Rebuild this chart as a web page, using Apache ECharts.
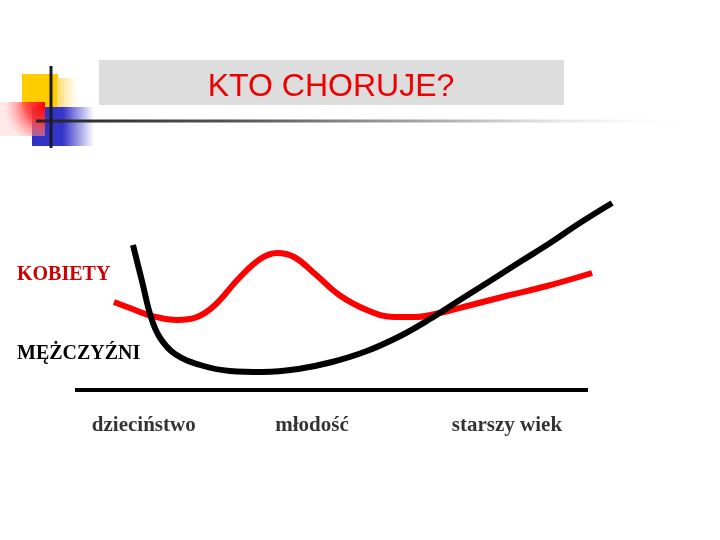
<!DOCTYPE html>
<html>
<head>
<meta charset="utf-8">
<script src="https://cdn.jsdelivr.net/npm/echarts@6/dist/echarts.min.js"></script>
<style>
  html, body { margin: 0; padding: 0; background: #ffffff; }
  #chart { width: 720px; height: 540px; }
</style>
</head>
<body>
<div id="chart"></div>
<script>
// ---- data (x: life stage 0-100, y: relative incidence 0-100) ----
var titleText = 'KTO CHORUJE?';
var seriesNames = ['KOBIETY', 'MĘŻCZYŹNI'];
var womenX = [7.6, 11.7, 15.0, 19.9, 23.8, 27.3, 32.0, 36.1, 39.4, 42.7, 46.8, 51.5, 56.9, 62.2, 66.3, 71.0, 77.2, 84.0, 92.0, 100.8];
var womenY = [44, 40, 37, 35, 36.5, 42.5, 56, 65.5, 68.5, 66.5, 58, 47.5, 40, 36.5, 36.5, 38.5, 42.5, 47, 52, 58.5];
var menX = [11.3, 13.1, 14.8, 16.6, 19.5, 24.4, 30.2, 36.6, 43.5, 50.1, 56.9, 63.4, 69.2, 75.0, 80.9, 86.7, 92.6, 98.4, 104.7];
var menY = [72.5, 54, 36.5, 26, 18, 12.5, 9.5, 9, 10.5, 14, 19.5, 27, 35.5, 45, 54.5, 64, 73.5, 83.5, 93.5];
var tickLabels = ['dzieciństwo', 'młodość', 'starszy wiek'];
var tickPositions = [13.4, 46.2, 84.2];
var axisStart = 0, axisEnd = 100;

function zip(xs, ys) { return xs.map(function (x, i) { return [x, ys[i]]; }); }

var chart = echarts.init(document.getElementById('chart'), null, { renderer: 'canvas' });

var serifFont = '"Liberation Serif", "Times New Roman", serif';

var option = {
  backgroundColor: '#ffffff',
  animation: false,
  grid: { left: 75, right: 106.35, top: 190, bottom: 150 },
  xAxis: {
    type: 'value', min: 0, max: 105, show: false,
    splitLine: { show: false }
  },
  yAxis: {
    type: 'value', min: 0, max: 100, show: false,
    splitLine: { show: false }
  },
  series: [
    {
      name: seriesNames[0], type: 'line', data: zip(womenX, womenY),
      smooth: 0.4, showSymbol: false, clip: false, z: 2,
      lineStyle: { color: '#ff0000', width: 6 }
    },
    {
      name: seriesNames[1], type: 'line', data: zip(menX, menY),
      smooth: 0.4, showSymbol: false, clip: false, z: 3,
      lineStyle: { color: '#000000', width: 6 }
    },
    {
      name: 'labels', type: 'scatter', symbolSize: 0, clip: false, silent: true,
      data: tickPositions.map(function (x, i) { return { value: [x, 0], name: tickLabels[i] }; }),
      label: {
        show: true, position: 'bottom', distance: 25,
        formatter: function (p) { return p.name; },
        color: '#000000', fontFamily: serifFont, fontSize: 21, fontWeight: 'bold'
      },
      markLine: {
        silent: true, symbol: 'none', label: { show: false },
        lineStyle: { color: '#000000', width: 4, type: 'solid' },
        data: [[{ coord: [axisStart, 0] }, { coord: [axisEnd, 0] }]]
      }
    }
  ],
  graphic: [
    // decorative squares
    { type: 'rect', shape: { x: 22, y: 74, width: 36, height: 33 }, style: { fill: '#ffcc00' }, z: 1 },
    { type: 'rect', shape: { x: 57, y: 78, width: 22, height: 29 },
      style: { fill: new echarts.graphic.LinearGradient(0, 0, 1, 0, [
        { offset: 0, color: 'rgba(255,215,100,1)' }, { offset: 1, color: 'rgba(255,235,180,0)' }]) }, z: 1 },
    { type: 'rect', shape: { x: 32, y: 107, width: 62, height: 39 },
      style: { fill: new echarts.graphic.LinearGradient(0, 0, 1, 0, [
        { offset: 0, color: '#3030c4' }, { offset: 0.5, color: '#3535c8' }, { offset: 1, color: 'rgba(60,60,210,0)' }]) }, z: 2 },
    { type: 'rect', shape: { x: 0, y: 102, width: 45, height: 34 },
      style: { fill: new echarts.graphic.RadialGradient(1, 0.1, 1.2, [
        { offset: 0, color: '#ff0000' }, { offset: 0.45, color: 'rgba(255,60,60,0.9)' }, { offset: 1, color: 'rgba(255,190,190,0.35)' }]) }, z: 3 },
    { type: 'line', shape: { x1: 51, y1: 66, x2: 51, y2: 148 }, style: { stroke: '#1a1a2a', lineWidth: 3 }, z: 5 },
    { type: 'line', shape: { x1: 36, y1: 121, x2: 700, y2: 121 },
      style: { lineWidth: 3, stroke: new echarts.graphic.LinearGradient(0, 0, 1, 0, [
        { offset: 0, color: '#222222' }, { offset: 0.3, color: '#555555' }, { offset: 0.65, color: '#bbbbbb' }, { offset: 1, color: 'rgba(255,255,255,0)' }]) }, z: 4 },
    // title bar
    { type: 'rect', shape: { x: 99, y: 60, width: 465, height: 45 }, style: { fill: '#dddddd' }, z: 1 },
    { type: 'text', x: 331, y: 87, z: 6,
      style: { text: titleText, fill: '#ee0000', font: '32px "Liberation Sans", Arial, sans-serif', align: 'center', verticalAlign: 'middle' } },
    // series labels
    { type: 'text', x: 17, y: 275, z: 6,
      style: { text: seriesNames[0], fill: '#cc0000', font: 'bold 20px "Liberation Serif", "Times New Roman", serif', align: 'left', verticalAlign: 'middle' } },
    { type: 'text', x: 17, y: 354, z: 6,
      style: { text: seriesNames[1], fill: '#000000', font: 'bold 20px "Liberation Serif", "Times New Roman", serif', align: 'left', verticalAlign: 'middle' } }
  ]
};

chart.setOption(option);
</script>
</body>
</html>
